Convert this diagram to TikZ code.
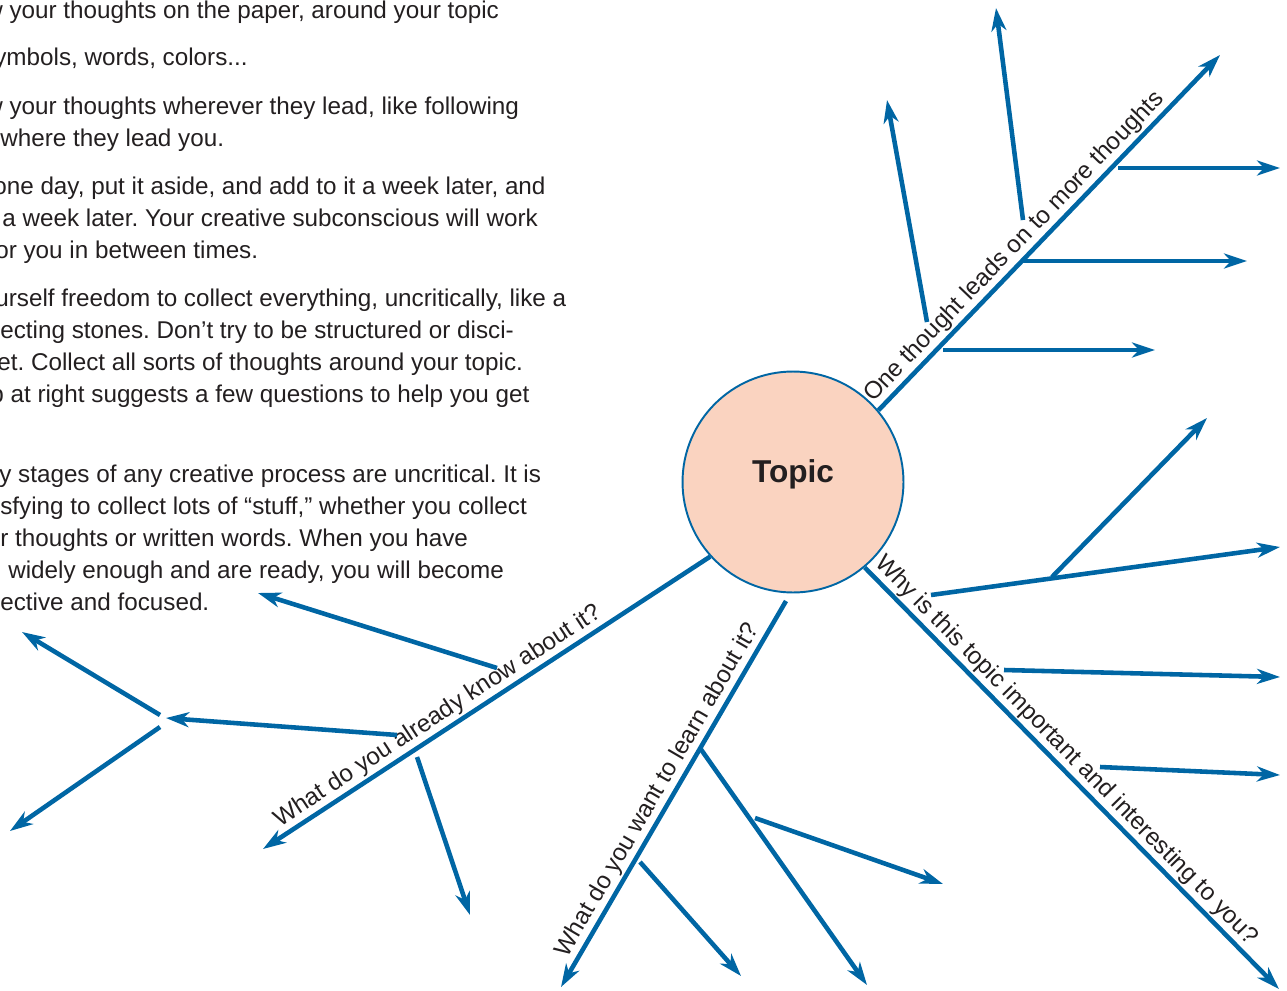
\documentclass[tikz,border=0pt]{standalone}
\usepackage{fontspec}
\setmainfont{Liberation Sans}
\usepackage{xcolor}
\usetikzlibrary{arrows.meta}
\definecolor{mapBlue}{HTML}{0066A4}
\definecolor{mapPeach}{HTML}{FAD3C0}
\definecolor{mapInk}{HTML}{231F20}
\frenchspacing

\begin{document}
\begin{tikzpicture}[x=0.02cm,y=-0.02cm,
  font=\fontsize{13.8}{16}\selectfont,
  topic/.style={circle,draw=mapBlue,line width=1.1pt,fill=mapPeach,minimum size=4.42cm,
    inner sep=0pt,text=mapInk,font=\fontsize{18}{20}\selectfont\bfseries},
  limb/.style={draw=mapBlue,line width=2.6pt},
  ar/.style={limb,-{Stealth[length=4.6mm,width=3mm,inset=1.4mm]}},
  say/.style={text=mapInk,anchor=base west,inner sep=0pt},
  tag/.style={text=mapInk,sloped,above,inner sep=1pt}]

\clip (0,0) rectangle (1287,990);

% notes on the left, cut by the page edge
\node[say] (p1) at (-15,19) {w your thoughts on the paper, around your topic};
\node[say] (p2) at (-6,66) {ymbols, words, colors...};
\node[say] (p3) at (-15,114) {w your thoughts wherever they lead, like following};
\node[say] (p4) at (0,146) {where they lead you.};
\node[say] (p5) at (-7,194) {one day, put it aside, and add to it a week later, and};
\node[say] (p6) at (2,226) {a week later. Your creative subconscious will work};
\node[say] (p7) at (-5,258) {or you in between times.};
\node[say] (p8) at (-5,306) {urself freedom to collect everything, uncritically, like a};
\node[say] (p9) at (0,338) {ecting stones. Don’t try to be structured or disci-};
\node[say] (p10) at (-3,370) {et. Collect all sorts of thoughts around your topic.};
\node[say] (p11) at (-10,402) {p at right suggests a few questions to help you get};
\node[say] (p12) at (-1,482) {y stages of any creative process are uncritical. It is};
\node[say] (p13) at (0,514) {sfying to collect lots of “stuff,” whether you collect};
\node[say] (p14) at (0,546) {r thoughts or written words. When you have};
\node[say] (p15) at (8,578) {widely enough and are ready, you will become};
\node[say] (p16) at (0,610) {ective and focused.};

% the topic
\node[topic] (topic) at (793,482) {\raisebox{4.5pt}[\height][\depth]{Topic}};

\coordinate (neTip) at (1220,55);
\coordinate (seTip) at (1279,989);
\coordinate (sRoot) at (786,601);
\coordinate (sTip) at (561,987);
\coordinate (swTip) at (263,849);

\draw[ar] (topic.40) -- node[tag,pos=0.43]{One thought leads on to more thoughts} (neTip);
\draw[ar] (topic.-50) -- node[tag,pos=0.46]{Why is this topic important and interesting to you?} (seTip);
\draw[ar] (sRoot) -- node[tag,pos=0.51]{What do you want to learn about it?} (sTip);
\draw[ar] (topic.222) -- node[tag,pos=0.59]{What do you already know about it?} (swTip);

% one thought leads on
\coordinate (ne1) at (943,350);  \coordinate (ne1t) at (1155,350);
\coordinate (ne2) at (1022,261); \coordinate (ne2t) at (1247,261);
\coordinate (ne3) at (1118,168); \coordinate (ne3t) at (1280,168);
\coordinate (ne4) at (927,322);  \coordinate (ne4t) at (887,100);
\coordinate (ne5) at (1023,220); \coordinate (ne5t) at (996,8);
\draw[ar] (ne1) -- (ne1t);
\draw[ar] (ne2) -- (ne2t);
\draw[ar] (ne3) -- (ne3t);
\draw[ar] (ne4) -- (ne4t);
\draw[ar] (ne5) -- (ne5t);

% why
\coordinate (se1) at (931,595);  \coordinate (se1t) at (1280,547);
\coordinate (se2) at (1052,577); \coordinate (se2t) at (1207,418);
\coordinate (se3) at (1004,670); \coordinate (se3t) at (1280,677);
\coordinate (se4) at (1100,767); \coordinate (se4t) at (1280,775);
\draw[ar] (se1) -- (se1t);
\draw[ar] (se2) -- (se2t);
\draw[ar] (se3) -- (se3t);
\draw[ar] (se4) -- (se4t);

% want to learn
\coordinate (s1) at (700,748); \coordinate (s1t) at (867,985);
\coordinate (s2) at (755,818); \coordinate (s2t) at (943,884);
\coordinate (s3) at (640,862); \coordinate (s3t) at (741,976);
\draw[ar] (s1) -- (s1t);
\draw[ar] (s2) -- (s2t);
\draw[ar] (s3) -- (s3t);

% already know
\coordinate (sw1) at (497,668); \coordinate (sw1t) at (258,593);
\coordinate (sw2) at (397,735); \coordinate (sw2t) at (166,718);
\coordinate (sw3) at (417,757); \coordinate (sw3t) at (470,915);
\coordinate (sw4) at (160,715); \coordinate (sw4t) at (22,632);
\coordinate (sw5) at (160,727); \coordinate (sw5t) at (10,831);
\draw[ar] (sw1) -- (sw1t);
\draw[ar] (sw2) -- (sw2t);
\draw[ar] (sw3) -- (sw3t);
\draw[ar] (sw4) -- (sw4t);
\draw[ar] (sw5) -- (sw5t);
\end{tikzpicture}
\end{document}
